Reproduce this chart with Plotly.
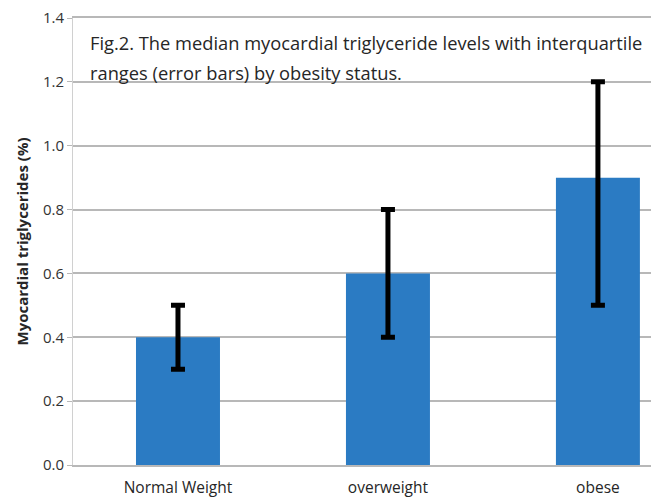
import plotly.graph_objects as go

categories = ["Normal Weight", "overweight", "obese"]
medians = [0.4, 0.6, 0.9]
q1 = [0.3, 0.4, 0.5]
q3 = [0.5, 0.8, 1.2]
y_ticks = [0.0, 0.2, 0.4, 0.6, 0.8, 1.0, 1.2, 1.4]
y_tick_labels = ["0.0", "0.2", "0.4", "0.6", "0.8", "1.0", "1.2", "1.4"]
title_lines = ["Fig.2. The median myocardial triglyceride levels with interquartile",
               "ranges (error bars) by obesity status."]

err_plus = [u - m for u, m in zip(q3, medians)]
err_minus = [m - l for m, l in zip(medians, q1)]

FONT = "Open Sans, Lato, sans-serif"
TXT = "#262626"
GRID = "#b8b8b8"

fig = go.Figure(go.Bar(
    x=[0, 1, 2],
    y=medians,
    width=0.4,
    marker=dict(color="#2b7bc3", line=dict(width=0)),
    error_y=dict(type="data", symmetric=False, array=err_plus, arrayminus=err_minus,
                 color="black", thickness=5, width=7),
))

annotations = []
for i, line in enumerate(title_lines):
    annotations.append(dict(
        text=line, xref="paper", yref="paper",
        x=0.026, y=0.945 - i * 0.067, xanchor="left", yanchor="middle",
        align="left", showarrow=False, font=dict(size=18.3, color=TXT, family=FONT),
    ))

fig.update_layout(
    width=659, height=500,
    margin=dict(l=65, r=0, t=10, b=43, autoexpand=False),
    paper_bgcolor="white", plot_bgcolor="white",
    showlegend=False,
    font=dict(family=FONT, color=TXT, size=15),
    xaxis=dict(range=[-0.5, 2.329], tickvals=[0, 1, 2], ticktext=categories,
               showgrid=False, zeroline=False, showline=True, mirror=True,
               linecolor=GRID, linewidth=1.5, ticks="outside",
               ticklen=8, tickcolor="rgba(0,0,0,0)",
               tickfont=dict(size=15.5, color=TXT)),
    yaxis=dict(range=[0, 1.4], tickvals=y_ticks, ticktext=y_tick_labels,
               showgrid=True, gridcolor=GRID, gridwidth=1.5,
               zeroline=False, showline=True, linecolor="#d0d0d0", linewidth=1,
               ticks="outside", ticklen=5, tickcolor=GRID,
               ticklabeloverflow="allow",
               tickfont=dict(size=15, color="#333333"),
               title=dict(text="<b>Myocardial triglycerides (%)</b>", font=dict(size=15, color=TXT),
                          standoff=10)),
    annotations=annotations,
)

fig.write_html("out.html")
